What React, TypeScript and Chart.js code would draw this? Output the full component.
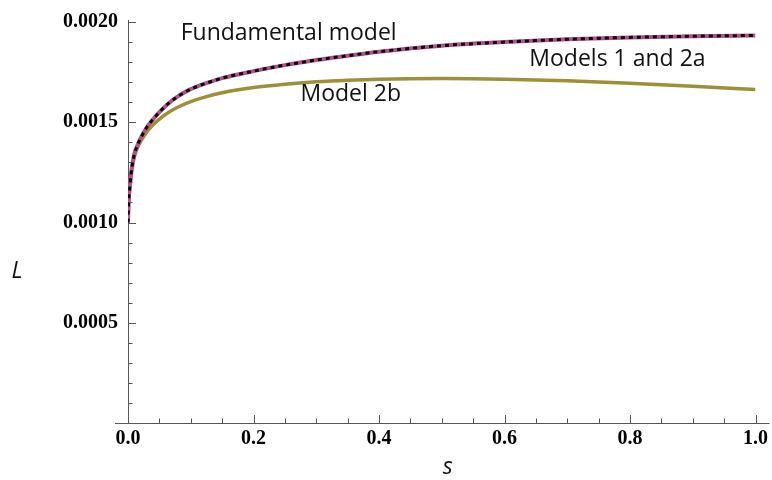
import React, { useEffect, useRef } from "react";
import { Chart, registerables } from "chart.js";

Chart.register(...registerables);

// s values (abscissa)
const sValues = [0, 0.001, 0.003, 0.006, 0.01, 0.015, 0.02, 0.03, 0.04, 0.05, 0.065, 0.08, 0.1, 0.125, 0.15, 0.2, 0.25, 0.3, 0.35, 0.4, 0.5, 0.6, 0.7, 0.8, 0.9, 1.0];
// L values in units of 1e-3
const fundamentalL = [1.0, 1.10, 1.18, 1.27, 1.34, 1.385, 1.42, 1.475, 1.515, 1.55, 1.595, 1.63, 1.665, 1.695, 1.72, 1.755, 1.785, 1.81, 1.832, 1.852, 1.882, 1.9, 1.914, 1.923, 1.929, 1.933];
const models1and2aL = [1.0, 1.10, 1.18, 1.27, 1.34, 1.385, 1.42, 1.475, 1.515, 1.55, 1.595, 1.63, 1.665, 1.695, 1.72, 1.755, 1.785, 1.81, 1.832, 1.852, 1.882, 1.9, 1.914, 1.923, 1.929, 1.933];
const model2bL = [1.0, 1.10, 1.18, 1.262, 1.325, 1.372, 1.403, 1.452, 1.488, 1.516, 1.55, 1.576, 1.603, 1.628, 1.647, 1.673, 1.69, 1.702, 1.71, 1.715, 1.718, 1.715, 1.707, 1.695, 1.68, 1.663];

// in-plot labels: text, s position, L position (units 1e-3)
const labelTexts = ["Fundamental model", "Models 1 and 2a", "Model 2b"];
const labelS = [0.256, 0.78, 0.355];
const labelL = [1.945, 1.815, 1.637];

const xTickStep = 0.2;
const xMinorStep = 0.05;
const yTickStep = 0.0005;
const yMinorStep = 0.0001;

const toPoints = (arr: number[]) => sValues.map((s, i) => ({ x: s, y: arr[i] * 1e-3 }));

const axesPlugin = {
  id: "mathAxes",
  beforeDatasetsDraw(chart: any) {
    const { ctx, chartArea, scales } = chart;
    const xs = scales.x;
    const ys = scales.y;
    const x0 = xs.getPixelForValue(0);
    const y0 = ys.getPixelForValue(0);
    ctx.save();
    ctx.strokeStyle = "#555";
    ctx.lineWidth = 1;
    ctx.beginPath();
    ctx.moveTo(chartArea.left - 13, y0 + 0.5);
    ctx.lineTo(chartArea.right + 14, y0 + 0.5);
    ctx.moveTo(x0 + 0.5, y0);
    ctx.lineTo(x0 + 0.5, ys.getPixelForValue(0.002) - 2);
    for (let i = 0; i <= Math.round(1 / xMinorStep); i++) {
      const v = i * xMinorStep;
      const px = Math.round(xs.getPixelForValue(v)) + 0.5;
      const major = i % Math.round(xTickStep / xMinorStep) === 0;
      ctx.moveTo(px, y0);
      ctx.lineTo(px, y0 - (major ? 8 : 4.5));
    }
    for (let i = 1; i <= Math.round(0.002 / yMinorStep); i++) {
      const v = i * yMinorStep;
      const py = Math.round(ys.getPixelForValue(v)) + 0.5;
      const major = i % Math.round(yTickStep / yMinorStep) === 0;
      ctx.moveTo(x0, py);
      ctx.lineTo(x0 + (major ? 8 : 4.5), py);
    }
    ctx.stroke();
    ctx.restore();
  },
  afterDraw(chart: any) {
    const { ctx, chartArea, scales } = chart;
    const xs = scales.x;
    const ys = scales.y;
    ctx.save();
    ctx.fillStyle = "#111";
    ctx.textAlign = "center";
    ctx.textBaseline = "middle";
    ctx.font = '23px "Open Sans"';
    labelTexts.forEach((t, i) => {
      ctx.fillText(t, xs.getPixelForValue(labelS[i]), ys.getPixelForValue(labelL[i] * 1e-3));
    });
    ctx.font = 'italic 23px "Open Sans"';
    ctx.fillText("L", 17, (chartArea.top + chartArea.bottom) / 2 + 49);
    ctx.fillText("s", (chartArea.left + chartArea.right) / 2 + 6, 467);
    ctx.restore();
  },
};

export default function App() {
  const ref = useRef<HTMLCanvasElement | null>(null);
  useEffect(() => {
    if (!ref.current) return;
    const chart = new Chart(ref.current, {
      type: "line",
      data: {
        datasets: [
          {
            label: "Models 1 and 2a",
            data: toPoints(models1and2aL),
            borderColor: "#000",
            borderWidth: 3,
            borderDash: [4, 4],
            pointRadius: 0,
            cubicInterpolationMode: "monotone",
            order: 0,
          },
          {
            label: "Fundamental model",
            data: toPoints(fundamentalL),
            borderColor: "#b5508f",
            borderWidth: 4,
            pointRadius: 0,
            cubicInterpolationMode: "monotone",
            order: 1,
          },
          {
            label: "Model 2b",
            data: toPoints(model2bL),
            borderColor: "#9e8f3c",
            borderWidth: 3.5,
            pointRadius: 0,
            cubicInterpolationMode: "monotone",
            order: 2,
          },
        ],
      },
      options: {
        animation: false,
        responsive: false,
        devicePixelRatio: 1,
        layout: { padding: { top: 19, right: 16, left: 0, bottom: 0 } },
        plugins: { legend: { display: false }, tooltip: { enabled: false } },
        scales: {
          x: {
            type: "linear",
            min: 0,
            max: 1,
            grid: { display: false, drawTicks: false },
            border: { display: false },
            afterFit: (s: any) => { s.height = 57; },
            ticks: {
              stepSize: xTickStep,
              padding: 4,
              color: "#000",
              font: { family: '"Liberation Serif"', weight: "bold", size: 20 },
              maxRotation: 0,
              callback: (v: any) => Number(v).toFixed(1),
            },
          },
          y: {
            type: "linear",
            min: 0,
            max: 0.002,
            grid: { display: false, drawTicks: false },
            border: { display: false },
            afterFit: (s: any) => { s.width = 128; },
            ticks: {
              stepSize: yTickStep,
              padding: 10,
              color: "#000",
              font: { family: '"Liberation Serif"', weight: "bold", size: 20 },
              callback: (v: any) => (Number(v) === 0 ? "" : Number(v).toFixed(4)),
            },
          },
        },
      },
      plugins: [axesPlugin],
    } as any);
    return () => chart.destroy();
  }, []);
  return (
    <div style={{ position: "absolute", left: 0, top: 0, width: 772, height: 480, background: "#fff" }}>
      <canvas ref={ref} width={772} height={480} />
    </div>
  );
}
